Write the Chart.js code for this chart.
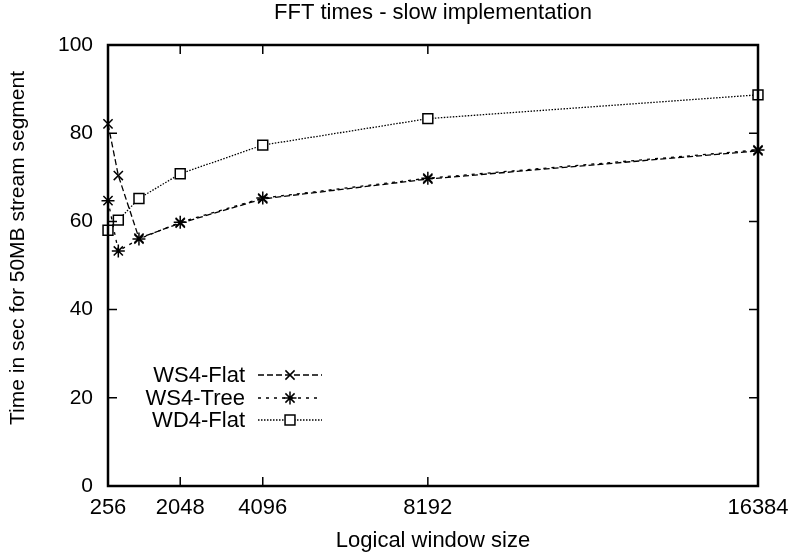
<!DOCTYPE html>
<html>
<head>
<meta charset="utf-8">
<title>FFT times - slow implementation</title>
<script src="https://cdn.jsdelivr.net/npm/chart.js@4.4.1/dist/chart.umd.min.js"></script>
<style>
  body { margin: 0; background: #fff; }
</style>
</head>
<body>
<canvas id="chart" width="794" height="557"></canvas>
<script>
// data
const windowSizes = [256, 512, 1024, 2048, 4096, 8192, 16384];
const ws4Flat = [82.1, 70.4, 56.2, 59.6, 65.1, 69.6, 76.0];
const ws4Tree = [64.7, 53.3, 56.0, 59.8, 65.3, 69.8, 76.2];
const wd4Flat = [58.0, 60.3, 65.2, 70.8, 77.3, 83.3, 88.7];

const xTicks = [256, 2048, 4096, 8192, 16384];
const yTicks = [0, 20, 40, 60, 80, 100];

const FONT = "'Liberation Sans', Arial, Helvetica, sans-serif";
const yTitle = 'Time in sec for 50MB stream segment';

function toPoints(values) {
    return values.map((v, i) => ({ x: windowSizes[i], y: v }));
}

// gnuplot-like frame with inward ticks, drawn from the chart scales
const framePlugin = {
    id: 'frame',
    afterDatasetsDraw(chart) {
        const { ctx, chartArea: a, scales } = chart;
        const len = 9;
        ctx.save();
        ctx.strokeStyle = '#000';
        ctx.setLineDash([]);
        ctx.lineWidth = 1.5;
        ctx.beginPath();
        yTicks.forEach(v => {
            const y = scales.y.getPixelForValue(v);
            ctx.moveTo(a.left, y); ctx.lineTo(a.left + len, y);
            ctx.moveTo(a.right, y); ctx.lineTo(a.right - len, y);
        });
        xTicks.forEach(v => {
            const x = scales.x.getPixelForValue(v);
            ctx.moveTo(x, a.bottom); ctx.lineTo(x, a.bottom - len);
            ctx.moveTo(x, a.top); ctx.lineTo(x, a.top + len);
        });
        ctx.stroke();
        ctx.lineWidth = 2.5;
        ctx.strokeRect(a.left, a.top, a.right - a.left, a.bottom - a.top);

        // y axis label, placed a little above centre as in the original
        ctx.fillStyle = '#000';
        ctx.font = '21px ' + FONT;
        ctx.textAlign = 'center';
        ctx.textBaseline = 'middle';
        ctx.translate(18, 248);
        ctx.rotate(-Math.PI / 2);
        ctx.fillText(yTitle, 0, 0);
        ctx.restore();
    }
};

// legend inside the plot: label on the left, line sample on the right
const keyPlugin = {
    id: 'key',
    afterDatasetsDraw(chart) {
        const { ctx, chartArea: a } = chart;
        const textRight = a.left + 137;
        const lineStart = a.left + 150;
        const lineEnd = a.left + 214;
        const rows = [a.bottom - 111, a.bottom - 88, a.bottom - 66];
        ctx.save();
        ctx.font = '22px ' + FONT;
        ctx.textAlign = 'right';
        ctx.textBaseline = 'middle';
        chart.data.datasets.forEach((ds, i) => {
            const y = rows[i];
            ctx.fillStyle = '#000';
            ctx.fillText(ds.label, textRight, y + 1);
            ctx.strokeStyle = '#000';
            ctx.lineWidth = ds.borderWidth;
            ctx.setLineDash(ds.borderDash);
            ctx.beginPath();
            ctx.moveTo(lineStart, y);
            ctx.lineTo(lineEnd, y);
            ctx.stroke();
            ctx.setLineDash([]);
            ctx.lineWidth = ds.pointBorderWidth;
            ctx.fillStyle = '#fff';
            Chart.helpers.drawPoint(ctx, {
                pointStyle: ds.pointStyle,
                radius: ds.pointRadius,
                borderWidth: ds.pointBorderWidth,
                rotation: 0
            }, (lineStart + lineEnd) / 2, y);
        });
        ctx.restore();
    }
};

function makeDataset(label, values, style, dash) {
    return {
        label: label,
        data: toPoints(values),
        borderColor: '#000',
        backgroundColor: '#fff',
        borderWidth: 1.3,
        borderDash: dash,
        pointStyle: style,
        pointRadius: style === 'rect' ? 7 : 6.5,
        pointBorderWidth: 1.5,
        pointBorderColor: '#000',
        pointBackgroundColor: '#fff',
        tension: 0,
        fill: false,
        clip: false
    };
}

const ctx = document.getElementById('chart').getContext('2d');
const myChart = new Chart(ctx, {
    type: 'line',
    data: {
        datasets: [
            makeDataset('WS4-Flat', ws4Flat, 'crossRot', [6, 3]),
            makeDataset('WS4-Tree', ws4Tree, 'star', [3, 5]),
            makeDataset('WD4-Flat', wd4Flat, 'rect', [1.5, 1.5])
        ]
    },
    options: {
        responsive: false,
        animation: false,
        layout: { padding: { left: 0, right: 36, top: 0, bottom: 0 } },
        plugins: {
            legend: { display: false },
            tooltip: { enabled: false },
            title: {
                display: true,
                text: 'FFT times - slow implementation',
                color: '#000',
                fullSize: false,
                font: { family: FONT, size: 22, weight: 'normal', lineHeight: 1.2 },
                padding: { top: 0, bottom: 18.6 }
            }
        },
        scales: {
            x: {
                type: 'linear',
                min: 256,
                max: 16384,
                afterBuildTicks: scale => {
                    scale.ticks = xTicks.map(v => ({ value: v }));
                },
                afterFit: scale => {
                    scale.height = 71;
                    scale.paddingLeft = 0;
                    scale.paddingRight = 0;
                },
                grid: { display: false, drawTicks: false },
                border: { display: false },
                ticks: {
                    color: '#000',
                    padding: 9,
                    maxRotation: 0,
                    autoSkip: false,
                    font: { family: FONT, size: 22 },
                    callback: v => String(v)
                },
                title: {
                    display: true,
                    text: 'Logical window size',
                    color: '#000',
                    font: { family: FONT, size: 22 },
                    padding: { top: 0, bottom: 3 }
                }
            },
            y: {
                min: 0,
                max: 100,
                afterBuildTicks: scale => {
                    scale.ticks = yTicks.map(v => ({ value: v }));
                },
                afterFit: scale => { scale.width = 108; },
                grid: { display: false, drawTicks: false },
                border: { display: false },
                ticks: {
                    color: '#000',
                    padding: 15,
                    font: { family: FONT, size: 21 }
                }
            }
        }
    },
    plugins: [framePlugin, keyPlugin]
});
</script>
</body>
</html>
